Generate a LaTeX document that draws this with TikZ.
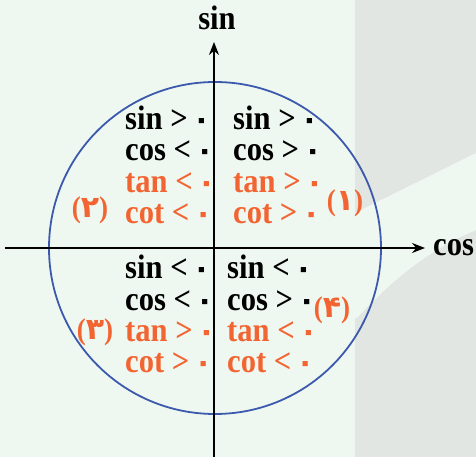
\documentclass[tikz,border=0pt]{standalone}
\usepackage{fontspec}
\setmainfont[FakeStretch=0.9]{Liberation Serif}
\newfontfamily\digitfont[Script=Arabic]{DejaVu Sans}
\usetikzlibrary{arrows.meta}
\definecolor{bggreen}{RGB}{239,248,240}
\definecolor{bggray}{RGB}{226,230,226}
\definecolor{signred}{RGB}{242,101,50}
\definecolor{circblue}{RGB}{59,89,173}
\newcommand{\zr}{\kern-3pt{\digitfont\fontsize{30}{31.5}\selectfont ۰}\kern-5pt}
\begin{document}
\begin{tikzpicture}[
  x=1pt, y=1pt,
  quad/.style={align=left, anchor=base west, inner sep=0pt,
    font=\fontsize{34}{31.5}\selectfont\bfseries},
  qnum/.style={text=signred, inner sep=0pt, font=\fontsize{30}{30}\selectfont\bfseries},
  axis/.style={line width=1.6pt, -{Stealth[length=13pt, width=10pt]}},
  axlabel/.style={inner sep=0pt, font=\fontsize{34}{31}\selectfont\bfseries}
]
  % background
  \useasboundingbox (-214,248) rectangle (262,-209);
  \fill[bggreen] (-214,248) rectangle (262,-209);
  \fill[bggray] (141,248) rectangle (262,-209);
  \fill[bggreen] (141,35) -- (262,95) -- (262,18)
    .. controls (215,-2) and (180,-30) .. (143,-70) -- (141,-70) -- cycle;

  \draw[circblue, line width=1.8pt] (1,0) circle [radius=166];

  \coordinate (w) at (-209,0);
  \coordinate (s) at (0,-209);
  \node[axlabel, anchor=base west] (cos) at (219,-8) {cos};
  \node[axlabel, anchor=base] (sin) at (3,218) {sin};
  \coordinate (e) at (211,0);
  \coordinate (n) at (0,206);
  \draw[axis] (w) -- (e);
  \draw[axis] (s) -- (n);

  % anchors sit on the last line
  \node[quad] (q1) at (19,24) {sin > \zr\\cos > \zr\\
    \textcolor{signred}{tan > \zr}\\\textcolor{signred}{cot > \zr}};
  \node[quad] (q2) at (-89,24) {sin > \zr\\cos < \zr\\
    \textcolor{signred}{tan < \zr}\\\textcolor{signred}{cot < \zr}};
  \node[quad] (q3) at (-89,-125) {sin < \zr\\cos < \zr\\
    \textcolor{signred}{tan > \zr}\\\textcolor{signred}{cot > \zr}};
  \node[quad] (q4) at (13,-125) {sin < \zr\\cos > \zr\\
    \textcolor{signred}{tan < \zr}\\\textcolor{signred}{cot < \zr}};

  \node[qnum] (n1) at (131,45) {({\digitfont ۱})};
  \node[qnum] (n2) at (-124,38) {({\digitfont ۲})};
  \node[qnum] (n3) at (-119,-84) {({\digitfont ۳})};
  \node[qnum] (n4) at (118,-62) {({\digitfont ۴})};
\end{tikzpicture}
\end{document}
